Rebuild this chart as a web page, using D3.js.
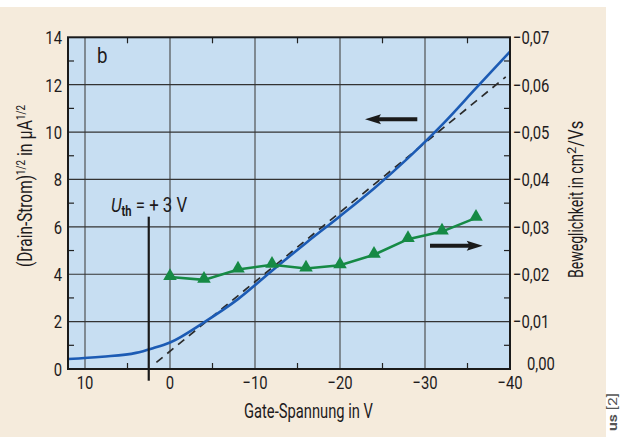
<!DOCTYPE html>
<html><head><meta charset="utf-8">
<script src="https://cdn.jsdelivr.net/npm/d3@7"></script>
<style>
body{margin:0;background:#fff;}
svg text{font-family:Roboto,"Liberation Sans",sans-serif;fill:#1e1b1c;}
</style></head>
<body><svg id="c" width="623" height="437"></svg>
<script>
// ---- data ----
const gateV      = [12, 8, 4, 2, 0, -4, -8, -12, -16, -20, -24, -28, -32, -36, -40];
const sqrtDrain  = [0.42, 0.52, 0.68, 0.88, 1.12, 1.97, 2.95, 4.15, 5.32, 6.45, 7.62, 8.9, 10.3, 11.85, 13.4];
const mobV       = [0, -4, -8, -12, -16, -20, -24, -28, -32, -36];
const mobility   = [-0.0194, -0.0188, -0.0210, -0.0220, -0.0212, -0.0219, -0.0241, -0.0274, -0.0290, -0.0319];
const fitV       = [1.6, -39.5];
const fitY       = [0.28, 12.33];
const uthV       = 2.5;
const xTicks     = [10, 0, -10, -20, -30, -40];
const yTicks     = [0, 2, 4, 6, 8, 10, 12, 14];
const yRTicks    = [0, -0.01, -0.02, -0.03, -0.04, -0.05, -0.06, -0.07];

const svg = d3.select("#c");
const L = 68, R = 510, T = 37.3, B = 369;
svg.append("rect").attr("x",0).attr("y",7).attr("width",606).attr("height",430).attr("fill","#f5ebdc");

const x = d3.scaleLinear().domain([12,-40]).range([L,R]);
const y = d3.scaleLinear().domain([0,14]).range([B,T]);
const yR = d3.scaleLinear().domain([0,-0.07]).range([B,T]);

svg.append("rect").attr("x",L).attr("y",T).attr("width",R-L).attr("height",B-T).attr("fill","#c7def2");

// grid
const g = svg.append("g");
g.selectAll(".vg").data(xTicks).join("line").attr("x1",d=>x(d)).attr("x2",d=>x(d)).attr("y1",T).attr("y2",B).attr("stroke","#444").attr("stroke-width",1.1);
g.selectAll(".hg").data(yTicks.slice(1,-1)).join("line").attr("x1",L).attr("x2",R).attr("y1",d=>y(d)).attr("y2",d=>y(d)).attr("stroke","#333").attr("stroke-width",1.2);
// minor ticks
const minorX = [5,-5,-15,-25,-35];
const minorY = [1,3,5,7,9,11,13];
g.selectAll(".mxb").data(minorX).join("line").attr("x1",d=>x(d)).attr("x2",d=>x(d)).attr("y1",B).attr("y2",B-6).attr("stroke","#222").attr("stroke-width",1.2);
g.selectAll(".mxt").data(minorX).join("line").attr("x1",d=>x(d)).attr("x2",d=>x(d)).attr("y1",T).attr("y2",T+6).attr("stroke","#222").attr("stroke-width",1.2);
g.selectAll(".myl").data(minorY).join("line").attr("x1",L).attr("x2",L+6).attr("y1",d=>y(d)).attr("y2",d=>y(d)).attr("stroke","#222").attr("stroke-width",1.2);
g.selectAll(".myr").data(minorY).join("line").attr("x1",R).attr("x2",R-6).attr("y1",d=>y(d)).attr("y2",d=>y(d)).attr("stroke","#222").attr("stroke-width",1.2);

// dashed fit
svg.append("path").datum(fitV.map((v,i)=>[v,fitY[i]]))
  .attr("d", d3.line().x(d=>x(d[0])).y(d=>y(d[1])))
  .attr("fill","none").attr("stroke","#2b2b2b").attr("stroke-width",1.7).attr("stroke-dasharray","8,6");

// blue curve
svg.append("path").datum(gateV.map((v,i)=>[v,sqrtDrain[i]]))
  .attr("d", d3.line().x(d=>x(d[0])).y(d=>y(d[1])).curve(d3.curveMonotoneX))
  .attr("fill","none").attr("stroke","#1c5bb4").attr("stroke-width",2.6);

// green mobility
const mob = mobV.map((v,i)=>[v,mobility[i]]);
svg.append("path").datum(mob)
  .attr("d", d3.line().x(d=>x(d[0])).y(d=>yR(d[1])))
  .attr("fill","none").attr("stroke","#168a45").attr("stroke-width",2.6);
svg.selectAll(".tri").data(mob).join("path")
  .attr("transform",d=>`translate(${x(d[0])},${yR(d[1])-1})`)
  .attr("d", d3.symbol().type(d3.symbolTriangle).size(80)())
  .attr("fill","#168a45");

// Uth line
svg.append("line").attr("x1",x(uthV)).attr("x2",x(uthV)).attr("y1",216.7).attr("y2",380.7).attr("stroke","#1a1a1a").attr("stroke-width",2.2);

// frame
svg.append("rect").attr("x",L).attr("y",T).attr("width",R-L).attr("height",B-T).attr("fill","none").attr("stroke","#1a1a1a").attr("stroke-width",2);

// arrows
function arrow(x1,x2,yy){
  const dir = Math.sign(x2-x1);
  svg.append("line").attr("x1",x1).attr("x2",x2-dir*10).attr("y1",yy).attr("y2",yy).attr("stroke","#1a1a1a").attr("stroke-width",4);
  svg.append("path").attr("d",`M${x2},${yy} L${x2-dir*16},${yy-5} L${x2-dir*13},${yy} L${x2-dir*16},${yy+5} Z`).attr("fill","#1a1a1a");
}
arrow(417.3,365,119.3);
arrow(430,482.7,245.7);

// axis labels (condensed via horizontal scale)
const fs = 19, sx = 0.78;
function label(px, py, txt, anchor){
  svg.append("text").attr("transform",`translate(${px},${py}) scale(${sx},1)`)
    .attr("text-anchor",anchor).attr("dy","0.36em").attr("font-size",fs).text(txt);
}
xTicks.forEach(d=>label(x(d), 382, d3.format("d")(d), "middle"));
yTicks.forEach(d=>label(62, y(d), String(d), "end"));
yRTicks.forEach(d=>label(d===0?527:513, yR(d)-(d===0?6:0), d3.format(".2f")(d).replace(".",","), "start"));

svg.append("text").attr("x",244).attr("y",418).attr("font-size",20)
  .attr("textLength",129).attr("lengthAdjust","spacingAndGlyphs").text("Gate-Spannung in V");

const lt = svg.append("text").attr("transform","translate(32,267) rotate(-90)").attr("font-size",20);
lt.append("tspan").attr("textLength",92).attr("lengthAdjust","spacingAndGlyphs").text("(Drain-Strom)");
lt.append("tspan").attr("dy",-7).attr("font-size",13).attr("textLength",15).attr("lengthAdjust","spacingAndGlyphs").text("1/2");
lt.append("tspan").attr("dy",7).attr("textLength",40).attr("lengthAdjust","spacingAndGlyphs").text(" in µA");
lt.append("tspan").attr("dy",-7).attr("font-size",13).attr("textLength",15).attr("lengthAdjust","spacingAndGlyphs").text("1/2");

const rt = svg.append("text").attr("transform","translate(583,278) rotate(-90)").attr("font-size",20);
rt.append("tspan").attr("textLength",124).attr("lengthAdjust","spacingAndGlyphs").text("Beweglichkeit in cm");
rt.append("tspan").attr("dy",-7).attr("font-size",13).text("2");
rt.append("tspan").attr("dy",7).attr("textLength",26).attr("lengthAdjust","spacingAndGlyphs").text("/Vs");

svg.append("text").attr("transform","translate(97,63) scale(0.85,1)").attr("font-size",22).text("b");

const ut = svg.append("text").attr("transform","translate(111,212) scale(0.8,1)").attr("font-size",21);
ut.append("tspan").attr("font-style","italic").text("U");
ut.append("tspan").attr("dy",4).attr("font-size",14).attr("font-weight","bold").text("th");
ut.append("tspan").attr("dy",-4).text(" = + 3 V");

svg.append("text").attr("transform","translate(617,431) rotate(-90)").attr("font-size",12)
  .attr("textLength",38).attr("lengthAdjust","spacingAndGlyphs").style("fill","#555")
  .html('<tspan font-weight="bold">us</tspan> [2]');
</script></body></html>
